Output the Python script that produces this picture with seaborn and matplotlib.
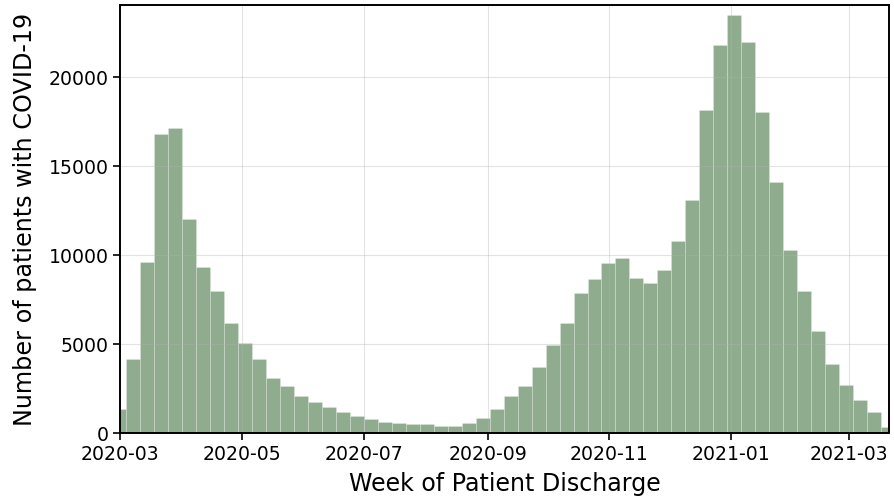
import numpy as np
import pandas as pd
import matplotlib
matplotlib.use("Agg")
import matplotlib.pyplot as plt
import matplotlib.dates as mdates
import seaborn as sns

# Weekly discharges of patients with COVID-19 (week start dates, counts)
first_week = "2020-02-26"
n_weeks = 56
week_counts = [
    1350, 4160, 9650, 16840, 17140, 12060, 9330, 7980, 6180, 5090,
    4160, 3130, 2640, 2100, 1760, 1460, 1200, 955, 790, 620,
    580, 506, 506, 430, 430, 560, 850, 1390, 2070, 2680,
    3750, 4950, 6180, 7900, 8690, 9590, 9830, 8730, 8450, 9160,
    10830, 13130, 18150, 21820, 23520, 21990, 18040, 14140, 10320, 7980,
    5730, 3920, 2700, 1870, 1200, 360,
]
x_start = "2020-03-01"
x_end = "2021-03-21"
y_max = 24050

week_starts = pd.date_range(first_week, periods=n_weeks, freq="7D")
edges = pd.date_range(first_week, periods=n_weeks + 1, freq="7D")

df = pd.DataFrame({
    "week": mdates.date2num(week_starts.to_pydatetime()),
    "count": week_counts,
})
bin_edges = [float(v) for v in mdates.date2num(edges.to_pydatetime())]

fig = plt.figure(figsize=(8.94, 5.01), dpi=100)
ax = fig.add_axes([0.1346, 0.1351, 0.8598, 0.8543])

sns.histplot(
    data=df, x="week", weights="count", bins=bin_edges,
    color="#8fad8e", alpha=1.0, edgecolor=(1, 1, 1, 0.25), linewidth=0.6,
    ax=ax,
)

ax.set_xlim(mdates.date2num(pd.Timestamp(x_start)), mdates.date2num(pd.Timestamp(x_end)))
ax.set_ylim(0, y_max)
ax.xaxis.set_major_locator(mdates.MonthLocator(bymonth=[1, 3, 5, 7, 9, 11]))
ax.xaxis.set_major_formatter(mdates.DateFormatter("%Y-%m"))
ax.yaxis.set_major_locator(plt.MultipleLocator(5000))

ax.grid(True, color="#b0b0b0", alpha=0.35, linewidth=0.8)
ax.set_axisbelow("line")

for s in ax.spines.values():
    s.set_color("black")
    s.set_linewidth(1.4)

ax.tick_params(axis="both", labelsize=13.6, length=5, width=1.2, color="black", labelcolor="black")
ax.set_xlabel("Week of Patient Discharge", fontsize=17.1, labelpad=6)
ax.set_ylabel("Number of patients with COVID-19", fontsize=17.2, labelpad=8)

fig.savefig("out.png", dpi=100)
